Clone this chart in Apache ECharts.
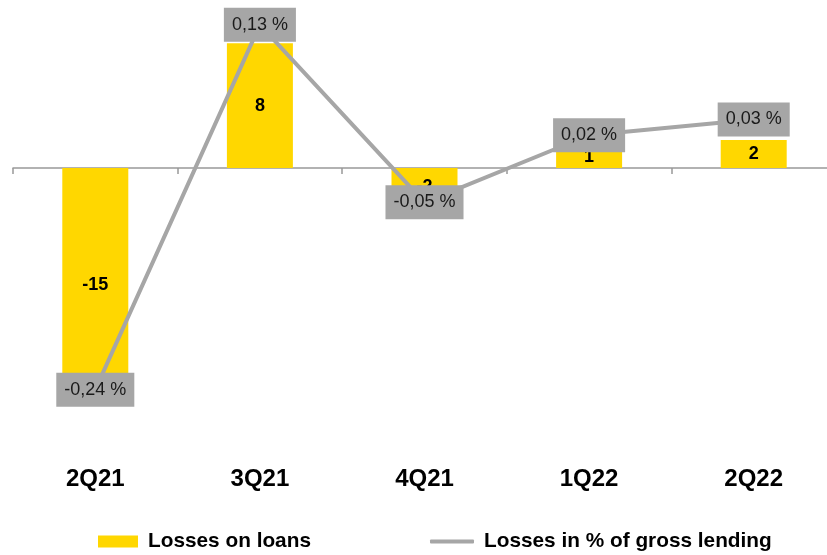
<!DOCTYPE html>
<html>
<head>
<meta charset="utf-8">
<script src="https://cdn.jsdelivr.net/npm/echarts@6/dist/echarts.min.js"></script>
<style>html,body{margin:0;padding:0;background:#fff}#c{width:827px;height:555px}</style>
</head>
<body>
<div id="c"></div>
<script>
var categories = ['2Q21', '3Q21', '4Q21', '1Q22', '2Q22'];
var lossesOnLoans = [-15, 8, -2.4, 1.4, 1.8];
var lossesPct = [-0.24, 0.13, -0.05, 0.018, 0.034];
var barName = 'Losses on loans';
var lineName = 'Losses in % of gross lending';

var chart = echarts.init(document.getElementById('c'));
var font = '"Liberation Sans", Arial, sans-serif';
chart.setOption({
  animation: false,
  grid: { left: 13, width: 823, top: 12, height: 436.8, outerBoundsMode: 'none', containLabel: false },
  legend: [
    { data: [barName], left: 98, top: 531, padding: 0, itemWidth: 40, itemHeight: 12,
      icon: 'rect', textStyle: { fontFamily: font, fontWeight: 'bold', fontSize: 20.8, color: '#000', padding: [0,0,0,5] } },
    { data: [lineName], left: 430, top: 531, padding: 0, itemWidth: 44, itemHeight: 4,
      icon: 'roundRect', textStyle: { fontFamily: font, fontWeight: 'bold', fontSize: 20.8, color: '#000', padding: [0,0,0,5] } }
  ],
  xAxis: [
    { type: 'category', data: categories, position: 'bottom',
      axisLine: { show: false, onZero: false }, axisTick: { show: false },
      axisLabel: { fontFamily: font, fontWeight: 'bold', fontSize: 24, color: '#000', margin: 19 } },
    { type: 'category', data: categories, position: 'bottom',
      axisLine: { show: true, onZero: true, onZeroAxisIndex: 0, lineStyle: { color: '#999', width: 1.5 } },
      axisTick: { show: true, length: 6, lineStyle: { color: '#999', width: 1.5 } },
      axisLabel: { show: false } }
  ],
  yAxis: [
    { type: 'value', min: -18, max: 10, show: false, splitLine: { show: false } },
    { type: 'value', min: -0.3, max: 0.143, show: false, splitLine: { show: false } }
  ],
  series: [
    { name: barName, type: 'bar', data: lossesOnLoans, xAxisIndex: 0, yAxisIndex: 0,
      barWidth: 66, itemStyle: { color: '#FFD700' },
      label: { show: true, position: 'inside', fontFamily: font, fontWeight: 'bold', fontSize: 18, color: '#000',
        formatter: function (p) { return Math.round(p.value); } } },
    { name: lineName, type: 'line', data: lossesPct, xAxisIndex: 0, yAxisIndex: 1,
      symbol: 'circle', symbolSize: 2, itemStyle: { color: '#A6A6A6' },
      lineStyle: { color: '#A6A6A6', width: 4 },
      label: { show: true, position: 'inside', fontFamily: font, fontSize: 18, color: '#1a1a1a',
        backgroundColor: '#A6A6A6', padding: [8, 8, 8, 8], lineHeight: 18,
        formatter: function (p) { return p.value.toFixed(2).replace('.', ',') + ' %'; } } }
  ]
});
</script>
</body>
</html>
